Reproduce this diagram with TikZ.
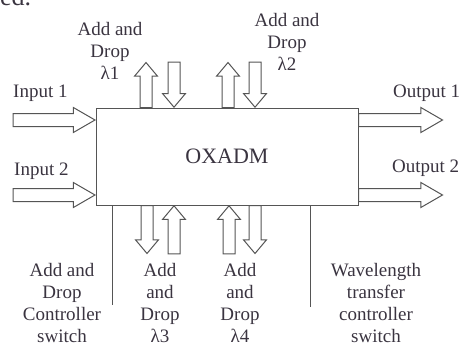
\documentclass[tikz,border=0pt]{standalone}
\usepackage{fontspec}
\setmainfont{Liberation Serif}
\usetikzlibrary{shapes.arrows,positioning}
\definecolor{ink}{HTML}{3A3440}
\definecolor{wire}{HTML}{555555}
\tikzset{
  hollow/.style={single arrow,draw=wire,fill=white,line width=1pt,inner xsep=0pt,
    inner ysep=6pt,single arrow head extend=6pt,single arrow tip angle=60},
  vhollow/.style={hollow,inner ysep=5.5pt,single arrow head extend=5.5pt,
    single arrow tip angle=80,minimum height=#1},
  lbl/.style={align=center,inner sep=0pt,anchor=north,text=ink,
    font=\fontsize{19}{22}\selectfont}
}
\begin{document}
\begin{tikzpicture}[x=1pt,y=-1pt]
  \useasboundingbox (0,0) rectangle (462,345);
  \node[anchor=base west,inner sep=0pt,text=ink,font=\fontsize{26}{26}\selectfont] (cut) at (0,6) {ed.};
  % main block
  \node[draw=wire,line width=1pt,minimum width=262pt,minimum height=97pt,inner sep=0pt,
    text=ink,font=\fontsize{22}{22}\selectfont] (oxadm) at (227,156.5) {OXADM};
  % inputs and outputs
  \foreach \n/\y in {1/120,2/195} {
    \node[hollow,minimum height=82pt,anchor=tip] (in\n) at (96,\y) {};
    \node[hollow,minimum height=84pt,anchor=tail] (out\n) at (358,\y) {};
  }
  % add / drop ports
  \node[vhollow=45pt,rotate=90,anchor=tail] (addA) at (146,108) {};
  \node[vhollow=45pt,rotate=-90,anchor=tip] (dropA) at (174,108) {};
  \node[vhollow=45pt,rotate=90,anchor=tail] (addB) at (228,108) {};
  \node[vhollow=45pt,rotate=-90,anchor=tip] (dropB) at (255,108) {};
  \node[vhollow=48pt,rotate=-90,anchor=tail] (dropC) at (147,205) {};
  \node[vhollow=48pt,rotate=90,anchor=tip] (addC) at (174,205) {};
  \node[vhollow=48pt,rotate=90,anchor=tip] (addD) at (229,205) {};
  \node[vhollow=48pt,rotate=-90,anchor=tail] (dropD) at (255,205) {};
  % controller switches
  \coordinate (ctlA) at (112,305);
  \coordinate (ctlB) at (310,307);
  \draw[wire,line width=1pt] (oxadm.south -| ctlA) -- (ctlA);
  \draw[wire,line width=1pt] (oxadm.south -| ctlB) -- (ctlB);
  % labels
  \node[lbl,anchor=base west] (inlbl1) at (13,97) {Input 1};
  \node[lbl,anchor=base west] (inlbl2) at (14,175) {Input 2};
  \node[lbl,anchor=base west] (outlbl1) at (393,97) {Output 1};
  \node[lbl,anchor=base west] (outlbl2) at (392,172) {Output 2};
  \node[lbl] (lblA) at (110,22) {Add and\\Drop\\λ1};
  \node[lbl] (lblB) at (287,13) {Add and\\Drop\\λ2};
  \node[lbl] (lblctl) at (62,263) {Add and\\Drop\\Controller\\switch};
  \node[lbl] (lblC) at (160,263) {Add\\and\\Drop\\λ3};
  \node[lbl] (lblD) at (240,263) {Add\\and\\Drop\\λ4};
  \node[lbl] (lblwl) at (376,263) {Wavelength\\transfer\\controller\\switch};
\end{tikzpicture}
\end{document}
